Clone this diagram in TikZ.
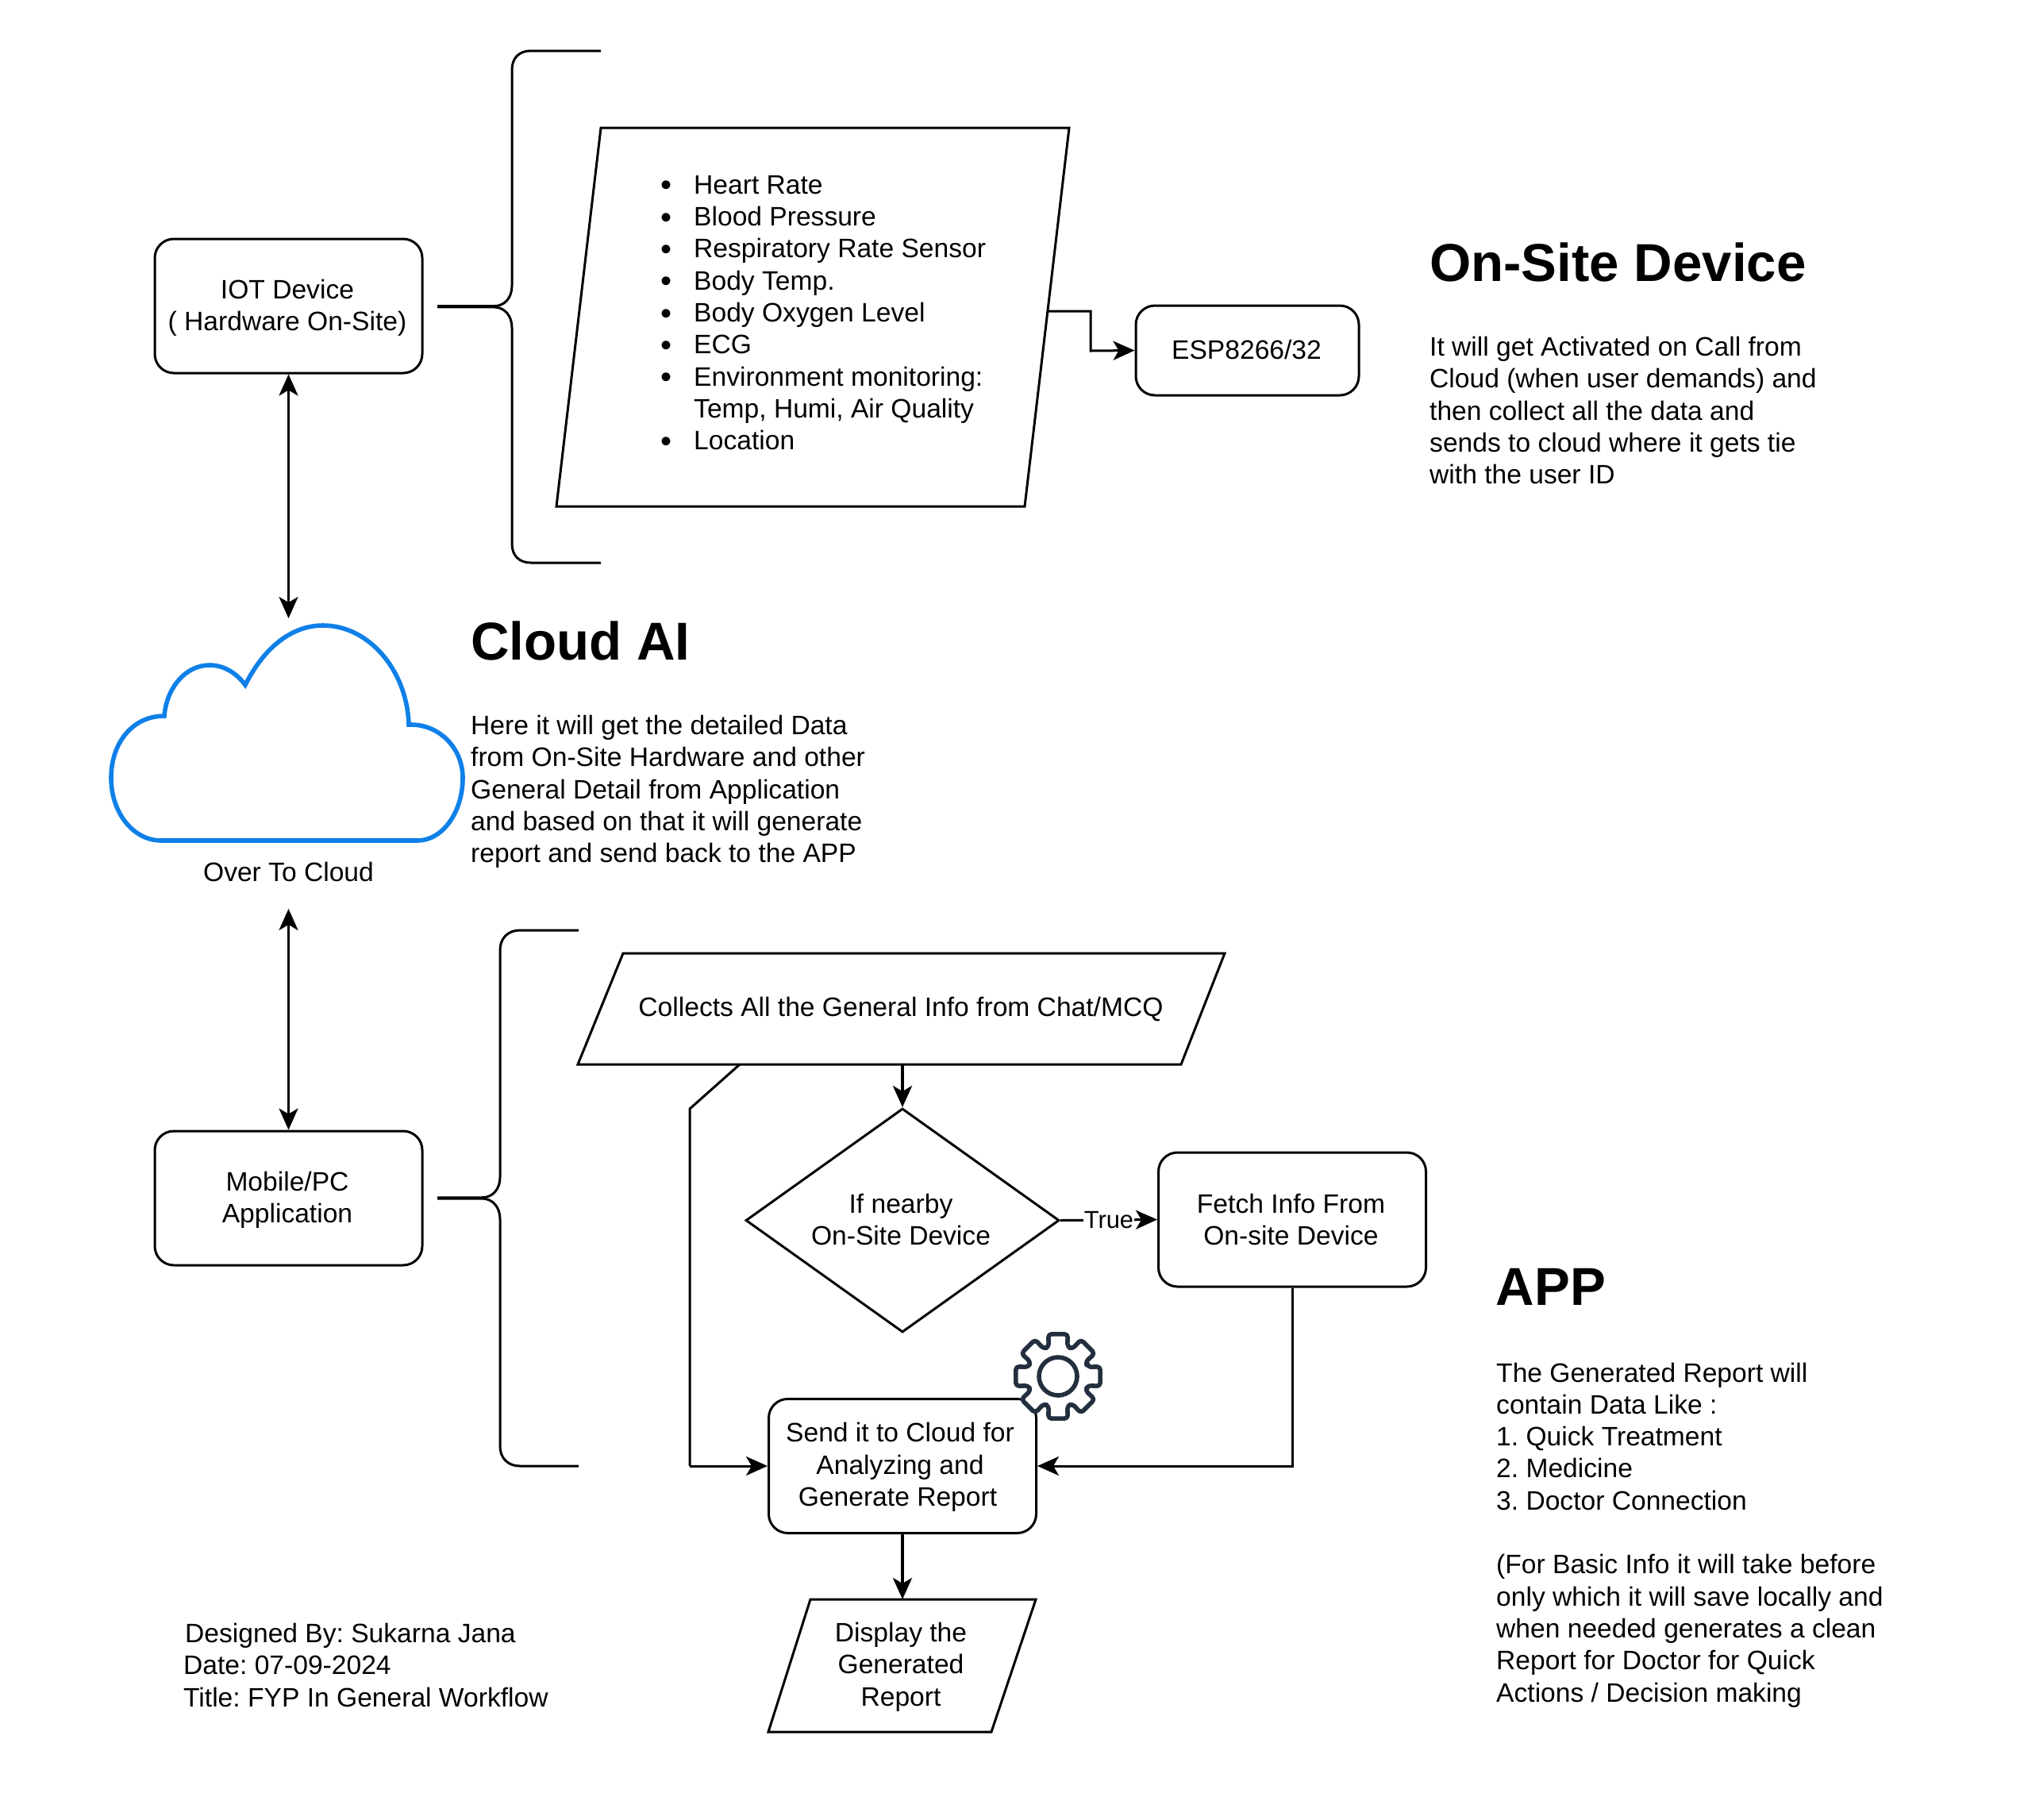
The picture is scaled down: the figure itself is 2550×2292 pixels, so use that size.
\documentclass[tikz,border=0pt]{standalone}
\usepackage{fontspec}
\usepackage{graphicx}
\setmainfont{Liberation Sans}
\usetikzlibrary{arrows.meta,shapes.geometric}
\newcommand{\bodyfont}{\fontsize{33.6}{40.3}\selectfont\frenchspacing}
\newcommand{\headfont}{\fontsize{67.2}{80}\selectfont\bfseries}
\newcommand{\bul}{\makebox[46pt][l]{\hspace{4pt}\raisebox{-2.5pt}{\fontsize{40}{40.3}\selectfont •}}}
\definecolor{cloudblue}{HTML}{0F80E8}
\definecolor{gearcol}{HTML}{232F3E}
\tikzset{
  line/.style={draw=black,line width=3pt},
  conn/.style={line,-{Stealth[length=27pt,width=24pt,inset=7pt]},line join=miter},
  bothconn/.style={line,{Stealth[length=27pt,width=24pt,inset=7pt]}-{Stealth[length=27pt,width=24pt,inset=7pt]}},
  plain/.style={line},
  box/.style={line,rounded corners=24pt,inner sep=0pt,minimum width=337pt,minimum height=169pt,align=center,font=\bodyfont},
  txt/.style={inner sep=0pt,align=left,font=\bodyfont},
  ctxt/.style={inner sep=0pt,align=center,font=\bodyfont},
  head/.style={inner sep=0pt,anchor=west,font=\headfont},
  brace/.style={line,line cap=butt},
}
\begin{document}
\begin{tikzpicture}[x=1pt,y=-1pt]
\useasboundingbox (0,0) rectangle (2550,2292);
\fill[white] (0,0) rectangle (2550,2292);

% --- on-site device group
\node[box,text=black] (iot) at (363.5,385.5) {};
\node[ctxt] (iottxt) at (362,388) {IOT Device\\( Hardware On-Site)};
\draw[brace] (757,64) -- (669,64) .. controls (654,64) and (645,73) .. (645,88) -- (645,360) .. controls (645,375) and (636,385.7) .. (622,385.7) -- (551,385.7);
\draw[brace] (757,709) -- (669,709) .. controls (654,709) and (645,700) .. (645,685) -- (645,413) .. controls (645,398) and (636,386.9) .. (622,386.9) -- (551,386.9);
\draw[line,line join=miter] (757,161) -- (1347,161) -- (1291,638) -- (701,638) -- cycle;
\coordinate (sensout) at (1320,392);
\node[txt,anchor=north west] (sens) at (828,221) {\bul Heart Rate\\\bul Blood Pressure\\\bul Respiratory Rate Sensor\\\bul Body Temp.\\\bul Body Oxygen Level\\\bul ECG\\\bul Environment monitoring:\\\hspace*{46pt}Temp, Humi, Air Quality\\\bul Location};
\node[box,minimum width=281pt,minimum height=113pt] (esp) at (1571.5,441.5) {};
\node[ctxt] (esptxt) at (1570.5,440) {ESP8266/32};
\draw[conn] (sensout) -- (1374,392) -- (1374,442) -- (esp.west);
\node[head] (h1) at (1801,330) {On-Site Device};
\node[txt,anchor=north west] (t1) at (1801,424) {It will get Activated on Call from\\Cloud (when user demands) and\\then collect all the data and\\sends to cloud where it gets tie\\with the user ID};

% --- cloud
\draw[draw=cloudblue,line width=5.6pt,line join=miter,miter limit=10]
 (203,1059) .. controls (168,1059) and (140,1024) .. (140,980)
 .. controls (140,936) and (167,902) .. (207,902)
 .. controls (210,866) and (234,838) .. (264,838)
 .. controls (282,838) and (298,848) .. (309,863)
 .. controls (333,815) and (368,788) .. (407,788)
 .. controls (465,788) and (513,845) .. (515,913)
 -- (518,913) .. controls (554,913) and (583,943) .. (583,980)
 .. controls (583,1024) and (557,1059) .. (526,1059) -- cycle;
\coordinate (cloudtop) at (363.5,779);
\coordinate (cloudbot) at (363.5,1145);
\node[ctxt] (cloudlbl) at (363.5,1098) {Over To Cloud};
\draw[bothconn] (iot.south) -- (cloudtop);
\node[head] (h2) at (593,807) {Cloud AI};
\node[txt,anchor=north west] (t2) at (593,901) {Here it will get the detailed Data\\from On-Site Hardware and other\\General Detail from Application\\and based on that it will generate\\report and send back to the APP};

% --- application group
\node[box] (mob) at (363.5,1509.5) {};
\node[ctxt] (mobtxt) at (362,1512) {Mobile/PC\\Application};
\draw[bothconn] (cloudbot) -- (mob.north);
\draw[brace] (729,1172) -- (655,1172) .. controls (640,1172) and (630,1182) .. (630,1197) -- (630,1483) .. controls (630,1498) and (621,1508.8) .. (607,1508.8) -- (551,1508.8);
\draw[brace] (729,1847) -- (655,1847) .. controls (640,1847) and (630,1837) .. (630,1822) -- (630,1536) .. controls (630,1521) and (621,1510) .. (607,1510) -- (551,1510);

\draw[line,line join=miter] (785,1201) -- (1543,1201) -- (1488,1341) -- (728,1341) -- cycle;
\coordinate (collA) at (932,1341);
\coordinate (collB) at (1137,1341);
\coordinate (bendA) at (869,1397);
\node[ctxt] (coll) at (1135,1271) {Collects All the General Info from Chat/MCQ};

\node[diamond,line,line join=miter,inner sep=0pt,aspect=1.395,minimum width=395pt,minimum height=282pt] (dec) at (1137,1537.5) {};
\node[ctxt] (dectxt) at (1135,1536.5) {If nearby\\On-Site Device};
\node[box] (fetch) at (1628,1536.5) {};
\node[ctxt] (fetchtxt) at (1626.5,1536.5) {Fetch Info From\\On-site Device};
\node[box] (send) at (1137,1847) {};
\node[ctxt] (sendtxt) at (1134,1848.5) {Send it to Cloud for\\Analyzing and\\\hspace*{-6pt}Generate Report};
\draw[line,line join=miter] (1021,2015) -- (1305,2015) -- (1249,2182) -- (968,2182) -- cycle;
\coordinate (disptop) at (1137,2015);
\node[ctxt] (disp) at (1135,2100) {Display the\\Generated\\Report};

\coordinate (bendB) at (bendA |- send.west);
\draw[conn,line width=4pt] (collB) -- (dec.north);
\draw[plain,line join=miter] (collA) -- (bendA) -- (bendB);
\draw[conn] (bendB) -- (send.west);
\draw[conn] (dec.east) -- (fetch.west) node[midway,fill=white,inner sep=1pt,font=\fontsize{30.8}{36}\selectfont] (truelbl) {True};
\coordinate (fetchcorner) at (fetch.south |- send.east);
\draw[conn] (fetch.south) -- (fetchcorner) -- (send.east);
\draw[conn,line width=4pt] (send.south) -- (disptop);

% gear
\begin{scope}[shift={(1333,1734)}]
\draw[draw=gearcol,line width=5.6pt,fill=white,rounded corners=4pt,line join=round]
 (-17.5:39)
 \foreach \a in {0,45,...,315} { -- (\a-17.5:39) -- (\a-13:54.5) -- (\a+13:54.5) -- (\a+17.5:39) } -- cycle;
\draw[draw=gearcol,line width=5.6pt] (0,0) circle (24);
\end{scope}

\node[head] (h3) at (1884.5,1621) {APP};
\node[txt,anchor=north west] (t3) at (1885,1716.5) {The Generated Report will\\contain Data Like :\\1. Quick Treatment\\2. Medicine\\3. Doctor Connection\\[40.3pt]\rule{0pt}{0pt}(For Basic Info it will take before\\only which it will save locally and\\when needed generates a clean\\Report for Doctor for Quick\\Actions / Decision making};

\node[txt,anchor=north west] (foot) at (231,2045) {\hspace*{2pt}Designed By: Sukarna Jana\\Date: 07-09-2024\\Title: FYP In General Workflow};
\end{tikzpicture}
\end{document}
